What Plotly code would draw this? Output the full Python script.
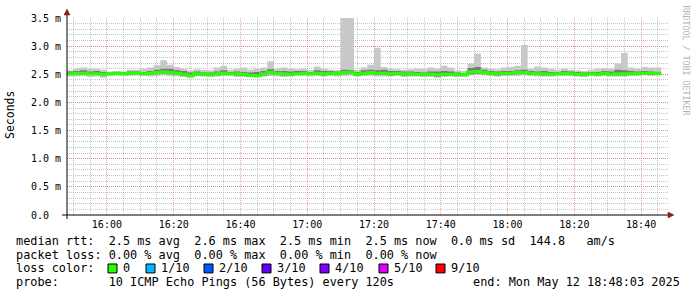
import plotly.graph_objects as go
from datetime import datetime, timedelta

# ---------------- data (ms) : one value per 120 s step, 15:48 .. 18:46 ----------------
start_time = datetime(2025, 5, 12, 15, 48, 0)
step_minutes = 2

median_ms = [2.51, 2.52, 2.52, 2.51, 2.51, 2.50, 2.51, 2.52, 2.51, 2.52,
             2.52, 2.51, 2.52, 2.53, 2.54, 2.53, 2.52, 2.50, 2.48, 2.51,
             2.50, 2.49, 2.51, 2.52, 2.51, 2.51, 2.50, 2.48, 2.48, 2.51,
             2.53, 2.52, 2.51, 2.50, 2.51, 2.52, 2.51, 2.52, 2.51, 2.52,
             2.51, 2.53, 2.53, 2.50, 2.52, 2.53, 2.52, 2.52, 2.51, 2.52,
             2.51, 2.51, 2.50, 2.49, 2.50, 2.49, 2.50, 2.50, 2.49, 2.49,
             2.54, 2.55, 2.53, 2.52, 2.51, 2.52, 2.52, 2.53, 2.53, 2.52,
             2.51, 2.51, 2.50, 2.51, 2.52, 2.51, 2.50, 2.49, 2.51, 2.50,
             2.52, 2.50, 2.51, 2.51, 2.51, 2.52, 2.52, 2.52, 2.52]
inner_lo_ms = [2.49, 2.49, 2.50, 2.49, 2.49, 2.48, 2.49, 2.50, 2.49, 2.50,
               2.50, 2.49, 2.49, 2.50, 2.51, 2.50, 2.49, 2.47, 2.45, 2.48,
               2.48, 2.47, 2.48, 2.49, 2.49, 2.48, 2.47, 2.46, 2.46, 2.48,
               2.50, 2.49, 2.48, 2.48, 2.49, 2.49, 2.49, 2.49, 2.48, 2.49,
               2.49, 2.50, 2.50, 2.48, 2.49, 2.50, 2.49, 2.49, 2.48, 2.49,
               2.48, 2.48, 2.48, 2.47, 2.47, 2.46, 2.47, 2.48, 2.47, 2.47,
               2.50, 2.51, 2.50, 2.49, 2.48, 2.49, 2.49, 2.50, 2.50, 2.49,
               2.49, 2.48, 2.48, 2.49, 2.49, 2.49, 2.48, 2.47, 2.49, 2.48,
               2.49, 2.48, 2.48, 2.48, 2.49, 2.49, 2.50, 2.49, 2.50]
inner_hi_ms = [2.55, 2.56, 2.57, 2.55, 2.56, 2.54, 2.53, 2.54, 2.54, 2.55,
               2.55, 2.54, 2.56, 2.58, 2.60, 2.60, 2.57, 2.56, 2.53, 2.55,
               2.53, 2.53, 2.55, 2.57, 2.54, 2.55, 2.54, 2.53, 2.54, 2.56,
               2.59, 2.56, 2.56, 2.55, 2.56, 2.56, 2.54, 2.57, 2.56, 2.56,
               2.55, 2.58, 2.57, 2.54, 2.57, 2.58, 2.57, 2.58, 2.56, 2.56,
               2.55, 2.55, 2.54, 2.53, 2.55, 2.55, 2.56, 2.55, 2.53, 2.52,
               2.61, 2.63, 2.58, 2.56, 2.55, 2.56, 2.56, 2.57, 2.58, 2.56,
               2.55, 2.56, 2.54, 2.54, 2.56, 2.55, 2.54, 2.53, 2.54, 2.54,
               2.56, 2.55, 2.58, 2.57, 2.56, 2.55, 2.56, 2.55, 2.54]
min_ms = [2.46, 2.46, 2.47, 2.45, 2.46, 2.44, 2.47, 2.48, 2.47, 2.47,
          2.48, 2.47, 2.46, 2.47, 2.48, 2.47, 2.46, 2.45, 2.43, 2.47,
          2.46, 2.45, 2.46, 2.47, 2.47, 2.45, 2.45, 2.45, 2.44, 2.46,
          2.47, 2.46, 2.45, 2.46, 2.47, 2.47, 2.46, 2.47, 2.46, 2.47,
          2.46, 2.47, 2.48, 2.46, 2.47, 2.47, 2.46, 2.46, 2.46, 2.47,
          2.45, 2.46, 2.46, 2.45, 2.45, 2.44, 2.45, 2.46, 2.45, 2.45,
          2.48, 2.49, 2.48, 2.47, 2.46, 2.47, 2.47, 2.47, 2.48, 2.47,
          2.46, 2.46, 2.46, 2.47, 2.47, 2.47, 2.46, 2.45, 2.47, 2.46,
          2.47, 2.46, 2.46, 2.46, 2.47, 2.47, 2.48, 2.47, 2.48]
max_ms = [2.57, 2.60, 2.62, 2.60, 2.60, 2.58, 2.55, 2.56, 2.55, 2.58,
          2.58, 2.60, 2.62, 2.66, 2.75, 2.67, 2.63, 2.60, 2.57, 2.59,
          2.58, 2.57, 2.62, 2.65, 2.58, 2.60, 2.62, 2.58, 2.60, 2.62,
          2.73, 2.60, 2.62, 2.60, 2.59, 2.60, 2.58, 2.64, 2.60, 2.58,
          2.57, 3.52, 3.52, 2.58, 2.62, 2.67, 2.97, 2.63, 2.60, 2.59,
          2.58, 2.59, 2.60, 2.59, 2.62, 2.60, 2.65, 2.62, 2.57, 2.56,
          2.69, 2.87, 2.62, 2.60, 2.59, 2.62, 2.63, 2.65, 3.02, 2.60,
          2.64, 2.62, 2.60, 2.58, 2.60, 2.58, 2.57, 2.56, 2.58, 2.60,
          2.61, 2.60, 2.69, 2.88, 2.62, 2.60, 2.63, 2.62, 2.62]

y_tick_values = [0.0, 0.5, 1.0, 1.5, 2.0, 2.5, 3.0, 3.5]
y_tick_labels = ["0.0\u00a0\u00a0", "0.5 m", "1.0 m", "1.5 m", "2.0 m", "2.5 m", "3.0 m", "3.5 m"]

loss_labels = ["0", "1/10", "2/10", "3/10", "4/10", "5/10", "9/10"]
loss_colors = ["#26ff00", "#00b8ff", "#0059ff", "#5e00ff", "#7e00ff", "#dd00ff", "#ff0000"]

legend_line1 = "median rtt:  2.5 ms avg  2.6 ms max  2.5 ms min  2.5 ms now  0.0 ms sd  144.8   am/s"
legend_line2 = "packet loss: 0.00 % avg  0.00 % max  0.00 % min  0.00 % now"
legend_line3 = "loss color:"
legend_line4 = "probe:       10 ICMP Echo Pings (56 Bytes) every 120s"
end_text = "end: Mon May 12 18:48:03 2025"
watermark = "RRDTOOL / TOBI OETIKER"
y_title = "Seconds"

# ---------------- geometry ----------------
W, H = 697, 297
L, R, T, B = 67, 29, 16, 82
PW, PH = W - L - R, H - T - B


def px2x(px):
    return (px - L) / PW


def py2y(py):
    return (T + PH - py) / PH


n = len(median_ms)
edges = [start_time + timedelta(minutes=step_minutes * k) for k in range(n + 1)]


def ext(a):
    return list(a) + [a[-1]]


FONT = "DejaVu Sans Mono"
fig = go.Figure()

fig.add_trace(go.Scatter(x=edges, y=ext(min_ms), mode="lines", line=dict(width=0, shape="hv"),
                         hoverinfo="skip", showlegend=False))
fig.add_trace(go.Scatter(x=edges, y=ext(max_ms), mode="lines", line=dict(width=0, shape="hv"),
                         fill="tonexty", fillcolor="#c8c8c8", hoverinfo="skip", showlegend=False))
fig.add_trace(go.Scatter(x=edges, y=ext(inner_lo_ms), mode="lines", line=dict(width=0, shape="hv"),
                         hoverinfo="skip", showlegend=False))
fig.add_trace(go.Scatter(x=edges, y=ext(inner_hi_ms), mode="lines", line=dict(width=0, shape="hv"),
                         fill="tonexty", fillcolor="#7a7a7a", hoverinfo="skip", showlegend=False))
fig.add_trace(go.Scatter(x=edges, y=ext(median_ms), mode="lines",
                         line=dict(width=3, shape="hv", color=loss_colors[0]),
                         hoverinfo="skip", showlegend=False))

major_grid = "rgba(215,90,90,0.55)"
minor_grid = "rgba(150,150,150,0.55)"

fig.update_xaxes(
    type="date",
    range=["2025-05-12 15:48:03", "2025-05-12 18:48:03"],
    tick0="2025-05-12 16:00:00", dtick=20 * 60 * 1000, tickformat="%H:%M",
    showgrid=True, gridcolor=major_grid, gridwidth=1, griddash="1px,1px",
    minor=dict(tick0="2025-05-12 16:00:00", dtick=5 * 60 * 1000, showgrid=True,
               gridcolor=minor_grid, griddash="1px,1px", gridwidth=1),
    showline=False, zeroline=False, ticks="",
    tickfont=dict(family=FONT, size=10, color="black"),
    ticklabelstandoff=2,
    fixedrange=True,
)
fig.update_yaxes(
    range=[0, 3.5],
    tickvals=y_tick_values, ticktext=y_tick_labels,
    showgrid=True, gridcolor=major_grid, gridwidth=1, griddash="1px,1px",
    minor=dict(dtick=0.1, showgrid=True, gridcolor=minor_grid, griddash="1px,1px", gridwidth=1),
    showline=False, zeroline=False, ticks="",
    tickfont=dict(family=FONT, size=10, color="black"),
    ticklabelstandoff=5,
    fixedrange=True,
)

shapes = []
# axes lines
shapes.append(dict(type="line", xref="paper", yref="paper", x0=px2x(62), x1=px2x(668),
                   y0=py2y(215), y1=py2y(215), line=dict(color="black", width=1)))
shapes.append(dict(type="line", xref="paper", yref="paper", x0=px2x(67), x1=px2x(67),
                   y0=py2y(219), y1=py2y(12), line=dict(color="black", width=1)))
# arrow heads
arrow_col = "#8b1a1a"
shapes.append(dict(type="path", xref="paper", yref="paper",
                   path=f"M {px2x(67)} {py2y(7)} L {px2x(64)} {py2y(13)} L {px2x(70)} {py2y(13)} Z",
                   fillcolor=arrow_col, line=dict(color=arrow_col, width=0.5)))
shapes.append(dict(type="path", xref="paper", yref="paper",
                   path=f"M {px2x(674)} {py2y(215)} L {px2x(668)} {py2y(212)} L {px2x(668)} {py2y(218)} Z",
                   fillcolor=arrow_col, line=dict(color=arrow_col, width=0.5)))

annotations = []
LEG_SIZE = 11.85


def txt(text, px, py, anchor="left", size=LEG_SIZE, color="black", angle=0):
    annotations.append(dict(text=text, x=px2x(px), y=py2y(py), xref="paper", yref="paper",
                            xanchor=anchor, yanchor="middle", showarrow=False, textangle=angle,
                            font=dict(family=FONT, size=size, color=color), borderpad=0))


txt(legend_line1, 15, 241)
txt(legend_line2, 15, 255)
txt(legend_line3, 15, 269)
txt(legend_line4, 15, 283)
txt(end_text, 681, 283, anchor="right")

box_left = [108, 146, 204, 262, 320, 379, 436]
for bl, lab, col in zip(box_left, loss_labels, loss_colors):
    shapes.append(dict(type="rect", xref="paper", yref="paper",
                       x0=px2x(bl), x1=px2x(bl + 9), y0=py2y(273.5), y1=py2y(264.5),
                       fillcolor=col, line=dict(color="black", width=1)))
    txt(lab, bl + 14, 269)

txt(y_title, 10, 114, anchor="center", size=11.5, angle=-90)
txt(watermark, 686, 59, anchor="center", size=8.3, color="#b4b4b4", angle=90)

fig.update_layout(
    width=W, height=H,
    margin=dict(l=L, r=R, t=T, b=B, pad=0),
    paper_bgcolor="white", plot_bgcolor="white",
    shapes=shapes, annotations=annotations,
    showlegend=False,
    font=dict(family=FONT, color="black"),
)

fig.write_html("out.html", config={"displayModeBar": False})
